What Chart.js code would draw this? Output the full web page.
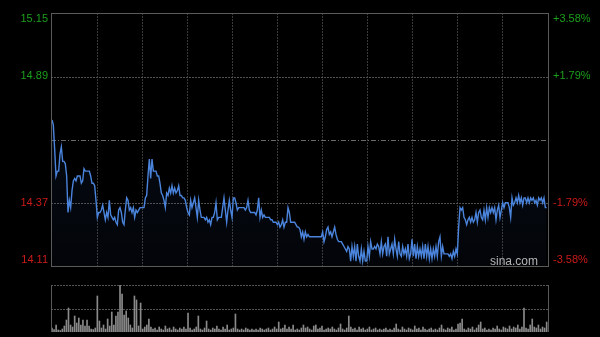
<!DOCTYPE html>
<html><head><meta charset="utf-8">
<script src="https://cdn.jsdelivr.net/npm/chart.js@4"></script>
<style>
html,body{margin:0;padding:0;background:#000;overflow:hidden;}
#wrap{position:relative;width:600px;height:337px;background:#000;}
canvas{position:absolute;left:0;top:0;}
</style>
</head><body>
<div id="wrap"><canvas id="c1" width="600" height="337"></canvas><canvas id="c2" width="600" height="337"></canvas></div>
<script>
// ---- data ----
const prevClose = 14.63;
const priceTicks = [15.15, 14.89, 14.37, 14.11];
const priceLabels = ['15.15', '14.89', '14.37', '14.11'];
const pctLabels = ['+3.58%', '+1.79%', '-1.79%', '-3.58%'];
const priceMin = 14.11, priceMax = 15.15;

const prices = [
 14.71,14.69,14.59,14.48,14.50,14.50,14.57,14.60,14.54,14.54,
 14.53,14.48,14.33,14.38,14.35,14.42,14.46,14.47,14.46,14.48,
 14.48,14.48,14.45,14.46,14.51,14.50,14.50,14.50,14.50,14.48,
 14.45,14.45,14.44,14.38,14.31,14.33,14.33,14.34,14.36,14.33,
 14.30,14.33,14.31,14.38,14.32,14.31,14.30,14.31,14.29,14.28,
 14.34,14.35,14.33,14.29,14.28,14.34,14.39,14.38,14.34,14.35,
 14.33,14.35,14.31,14.34,14.33,14.34,14.35,14.35,14.35,14.35,
 14.39,14.40,
 14.48,14.55,14.47,14.55,14.50,14.50,14.50,14.48,14.48,14.45,
 14.41,14.40,14.38,14.35,14.41,14.40,14.43,14.41,14.44,14.41,
 14.43,14.41,14.42,14.44,14.40,14.40,14.39,14.39,14.38,14.35,
 14.33,14.32,14.38,14.35,14.37,14.39,14.35,14.31,14.38,14.34,
 14.31,14.31,14.31,14.30,14.31,14.29,14.30,14.28,14.31,14.31,
 14.33,14.37,14.30,14.31,14.31,14.31,14.35,14.39,14.34,14.29,
 14.34,14.38,14.34,14.31,14.39,14.39,14.37,14.34,14.35,14.35,
 14.35,14.35,14.35,14.34,14.35,
 14.38,14.34,14.33,14.33,14.33,14.33,14.32,14.34,14.39,14.31,
 14.34,14.31,14.32,14.31,14.31,14.31,14.31,14.30,14.30,14.29,
 14.29,14.29,14.28,14.29,14.27,14.28,14.30,14.27,14.29,14.29,
 14.35,14.33,14.29,14.29,14.29,14.29,14.28,14.27,14.27,14.26,
 14.23,14.25,14.22,14.25,14.23,14.24,14.23,14.23,14.23,14.23,
 14.23,14.23,14.23,14.23,14.23,14.23,14.25,14.21,14.23,14.26,
 14.27,14.24,14.25,14.23,14.25,14.27,14.24,14.22,14.21,14.21,
 14.21,14.20,14.19,14.18,14.17,
 14.19,14.18,14.13,14.19,14.15,14.19,14.13,14.20,14.15,14.13,
 14.18,14.13,14.17,14.13,14.13,14.19,14.15,14.21,14.18,14.18,
 14.19,14.18,14.20,14.19,14.16,14.21,14.16,14.19,14.20,14.15,
 14.23,14.16,14.18,14.20,14.16,14.22,14.18,14.15,14.21,14.16,
 14.15,14.19,14.16,14.18,14.15,14.20,14.14,14.16,14.22,14.15,
 14.20,14.14,14.19,14.15,14.18,14.15,14.19,14.14,14.20,14.15,
 14.19,14.14,14.18,14.14,14.18,14.15,14.19,14.15,14.21,14.23,
 14.15,14.19,14.16,14.16,14.16,
 14.16,14.15,14.16,14.14,14.17,14.15,14.18,14.16,14.27,14.35,
 14.34,14.35,14.31,14.30,14.28,14.30,14.31,14.29,14.31,14.29,
 14.30,14.33,14.29,14.33,14.34,14.31,14.30,14.34,14.30,14.35,
 14.31,14.35,14.33,14.35,14.33,14.35,14.30,14.34,14.36,14.31,
 14.34,14.37,14.35,14.37,14.37,14.37,14.35,14.31,14.39,14.36,
 14.37,14.39,14.37,14.40,14.37,14.39,14.36,14.39,14.39,14.37,
 14.39,14.37,14.39,14.38,14.39,14.37,14.38,14.36,14.39,14.38,
 14.39,14.37,14.39,14.35,14.35
];

const volumes = [
 400,250,700,200,150,300,600,1200,2400,700,
 500,1600,900,1400,700,1200,600,1200,600,300,
 250,400,3600,1100,400,700,300,1300,600,2000,
 700,1600,2000,4700,3800,1700,2100,1400,700,400,
 3600,3200,600,2900,300,500,700,1300,500,300,
 400,200,500,300,200,600,300,400,200,500,
 300,200,400,300,500,300,1900,400,200,300,
 500,1600,300,200,400,1100,300,200,400,300,
 600,300,200,500,300,700,200,300,400,1800,
 300,200,300,200,400,300,200,300,200,300,
 200,400,300,200,300,400,200,300,500,300,
 1000,300,400,700,300,500,300,700,200,300,
 200,400,700,400,500,300,200,600,700,300,
 400,600,200,300,400,300,500,300,200,400,
 800,300,200,400,1600,500,300,400,200,500,
 300,400,200,300,500,200,300,400,200,300,
 200,300,400,200,300,200,400,800,300,200,
 500,300,200,400,300,200,600,300,400,200,
 500,300,200,300,400,200,300,200,400,700,
 300,200,400,300,500,200,300,800,900,1300,
 300,200,400,300,500,200,400,700,1000,300,
 400,200,300,200,400,300,600,300,200,500,
 400,300,600,300,500,400,700,300,500,2400,
 400,300,700,1300,500,400,700,300,500,400,
 1000
];
const volumeMax = 4700;

// ---- styles ----
const FONT = '11px "Liberation Sans", Arial, sans-serif';
const GREEN = '#1c9f1c', RED = '#cc1a1a';

const priceData = prices.map((p, i) => ({x: i, y: p}));
const volData = volumes.map((v, i) => ({x: i, y: v}));

function px(v){ return Math.round(v + 0.5) + 0.5; }

const pricePlugin = {
  id: 'pricePlugin',
  beforeDatasetsDraw(chart){
    const {ctx, chartArea: a, scales: {y}} = chart;
    ctx.save();
    ctx.lineWidth = 1;
    // vertical grid
    ctx.strokeStyle = '#3a3a3a';
    ctx.setLineDash([2, 1]);
    const w = a.right - a.left - 1;
    for (let k = 1; k < 11; k++){
      const x = Math.floor(a.left + 1 + k * w / 11) + 0.5;
      ctx.beginPath(); ctx.moveTo(x, a.top); ctx.lineTo(x, a.bottom); ctx.stroke();
    }
    // horizontal grid
    ctx.strokeStyle = '#505050';
    priceTicks.forEach(p => {
      if (p === priceMin || p === priceMax) return;
      const yy = px(y.getPixelForValue(p));
      ctx.beginPath(); ctx.moveTo(a.left, yy); ctx.lineTo(a.right, yy); ctx.stroke();
    });
    // prev close line
    ctx.strokeStyle = '#6a6a6a';
    ctx.setLineDash([5, 2, 1, 2]);
    const yc = px(y.getPixelForValue(prevClose));
    ctx.beginPath(); ctx.moveTo(a.left, yc); ctx.lineTo(a.right, yc); ctx.stroke();
    ctx.restore();
  },
  afterDraw(chart){
    const {ctx, chartArea: a, scales: {y}} = chart;
    ctx.save();
    // border
    ctx.strokeStyle = '#5a5a5a'; ctx.lineWidth = 1; ctx.setLineDash([]);
    ctx.strokeRect(a.left + 0.5, a.top + 0.5, a.right - a.left, a.bottom - a.top);
    // labels
    ctx.font = FONT; ctx.textBaseline = 'middle';
    priceTicks.forEach((p, i) => {
      let yy = y.getPixelForValue(p);
      yy = Math.min(Math.max(yy, a.top + 6), a.bottom - 6);
      ctx.fillStyle = p > prevClose ? GREEN : RED;
      ctx.textAlign = 'right';
      ctx.fillText(priceLabels[i], a.left - 3, yy);
      ctx.textAlign = 'left';
      ctx.fillText(pctLabels[i], a.right + 5, yy);
    });
    // watermark
    ctx.fillStyle = '#b4b4b4';
    ctx.font = '12px "Liberation Sans", Arial, sans-serif';
    ctx.textAlign = 'right'; ctx.textBaseline = 'alphabetic';
    ctx.fillText('sina.com', a.right - 10, a.bottom - 1);
    ctx.restore();
  }
};

const volPlugin = {
  id: 'volPlugin',
  beforeDatasetsDraw(chart){
    const {ctx, chartArea: a, scales: {y}} = chart;
    ctx.save();
    ctx.lineWidth = 1;
    ctx.strokeStyle = '#555';
    ctx.setLineDash([2, 1]);
    [volumeMax, volumeMax / 2].forEach(v => {
      const yy = Math.round(y.getPixelForValue(v)) + 0.5;
      ctx.beginPath(); ctx.moveTo(a.left, yy); ctx.lineTo(a.right, yy); ctx.stroke();
    });
    ctx.restore();
  },
  afterDraw(chart){
    const {ctx, chartArea: a} = chart;
    ctx.save();
    ctx.strokeStyle = '#5a5a5a'; ctx.lineWidth = 1;
    ctx.beginPath();
    ctx.moveTo(a.left + 0.5, a.top); ctx.lineTo(a.left + 0.5, a.bottom);
    ctx.moveTo(a.right + 0.5, a.top); ctx.lineTo(a.right + 0.5, a.bottom);
    ctx.stroke();
    ctx.restore();
  }
};

Chart.defaults.font.family = '"Liberation Sans", Arial, sans-serif';

new Chart(document.getElementById('c1'), {
  type: 'line',
  data: { datasets: [{
    data: priceData,
    borderColor: '#4a84dc',
    borderWidth: 1.4,
    pointRadius: 0,
    tension: 0,
    fill: 'start',
    backgroundColor: (ctx) => {
      const c = ctx.chart, a = c.chartArea;
      if (!a) return 'rgba(40,70,130,0.1)';
      const g = c.ctx.createLinearGradient(0, a.top, 0, a.bottom);
      g.addColorStop(0, 'rgba(50,90,170,0.16)');
      g.addColorStop(1, 'rgba(50,90,170,0.05)');
      return g;
    }
  }]},
  options: {
    responsive: false, animation: false, devicePixelRatio: 1,
    layout: { padding: { left: 51, right: 52, top: 13, bottom: 71 } },
    plugins: { legend: { display: false }, tooltip: { enabled: false } },
    scales: {
      x: { type: 'linear', display: false, min: -0.75, max: 372 },
      y: { display: false, min: priceMin, max: priceMax }
    }
  },
  plugins: [pricePlugin]
});

new Chart(document.getElementById('c2'), {
  type: 'bar',
  data: { datasets: [{
    data: volData,
    backgroundColor: '#8a8a8a',
    barThickness: 1,
    borderWidth: 0
  }]},
  options: {
    responsive: false, animation: false, devicePixelRatio: 1,
    layout: { padding: { left: 51, right: 52, top: 285, bottom: 5 } },
    plugins: { legend: { display: false }, tooltip: { enabled: false } },
    scales: {
      x: { type: 'linear', display: false, min: -0.485, max: 240.65, offset: false },
      y: { display: false, min: 0, max: volumeMax }
    }
  },
  plugins: [volPlugin]
});
</script>
</body></html>
